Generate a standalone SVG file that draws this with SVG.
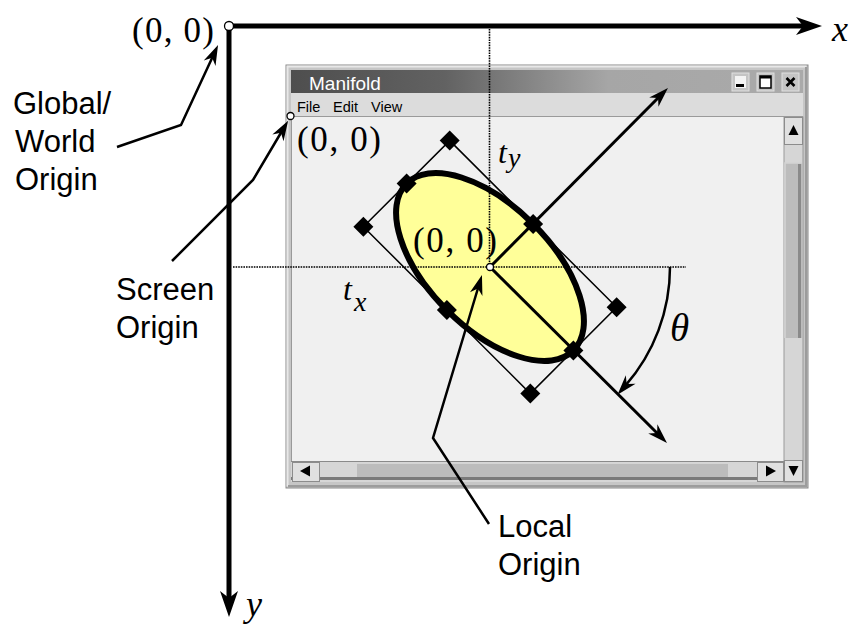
<svg xmlns="http://www.w3.org/2000/svg" width="854" height="624" viewBox="0 0 854 624">
<defs>
<style>
.sans{font-family:"Liberation Sans",Arial,sans-serif;fill:#000;font-size:31px}
.serif{font-family:"Liberation Serif","Times New Roman",serif;fill:#000}
.it{font-style:italic}
.axis{stroke:#000;stroke-width:5;fill:none;stroke-linecap:square}
.lead{stroke:#000;stroke-width:2.5;fill:none;stroke-linejoin:miter}
.thin{stroke:#000;stroke-width:1.5;fill:none}
.dot{stroke:#000;stroke-width:1.6;stroke-dasharray:1.6 1;fill:none}
.bar{stroke:#000;stroke-width:3;fill:none}
.origin{fill:#fff;stroke:#000;stroke-width:1.3}
.btn{fill:#e0e0e0;stroke:#8c8c8c;stroke-width:1}
.tri{fill:#000}
</style>
<linearGradient id="titleGrad" x1="0" y1="0" x2="1" y2="0">
<stop offset="0" stop-color="#4e4e4e"/>
<stop offset="0.3" stop-color="#626262"/>
<stop offset="0.62" stop-color="#a6a6a6"/>
<stop offset="1" stop-color="#aaaaaa"/>
</linearGradient>
<marker id="bigArrow" viewBox="-28 -10 30 20" markerWidth="30" markerHeight="20" refX="-15" refY="0" orient="auto" markerUnits="userSpaceOnUse"><path d="M0,0 L-26,-9 L-19,0 L-26,9 Z" fill="#000"/></marker>
<marker id="arrow" viewBox="-22 -8 24 16" markerWidth="24" markerHeight="16" refX="-12" refY="0" orient="auto" markerUnits="userSpaceOnUse"><path d="M0,0 L-20,-6.5 L-14,0 L-20,6.5 Z" fill="#000"/></marker>
<path id="diamond" d="M0,-10 L10,0 L0,10 L-10,0 Z" fill="#000"/>
</defs>
<rect width="854" height="624" fill="#fff"/>

<g id="window">
<rect x="286" y="65" width="522" height="423" fill="#c6c6c6" stroke="#8a8a8a" stroke-width="1"/>
<path d="M287.5,486.5 V66.5 H806.5" stroke="#e8e8e8" stroke-width="2" fill="none"/>
<path d="M806,67 V486 H288" stroke="#9c9c9c" stroke-width="2" fill="none"/>
<rect x="291" y="70" width="512" height="23" fill="url(#titleGrad)"/>
<text x="309" y="90" font-family="Liberation Sans, Arial, sans-serif" font-size="19" fill="#fff">Manifold</text>
<g id="title-buttons">
<rect x="732" y="73" width="17" height="18" fill="#c4c4c4" stroke="#e0e0e0"/>
<rect x="735" y="76" width="11" height="12" fill="#f4f4f4"/>
<rect x="736" y="84" width="8" height="3" fill="#000"/>
<rect x="757" y="73" width="17" height="18" fill="#c4c4c4" stroke="#e0e0e0"/>
<rect x="760" y="76" width="11" height="12" fill="#fff" stroke="#000" stroke-width="1.5"/>
<rect x="760" y="76" width="11" height="2.5" fill="#000"/>
<rect x="782" y="73" width="17" height="18" fill="#c4c4c4" stroke="#e0e0e0"/>
<path d="M786.5,78 L794.5,86 M794.5,78 L786.5,86" stroke="#000" stroke-width="2.6"/>
</g>
<rect x="291" y="93" width="512" height="24" fill="#dcdcdc"/>
<line x1="291" y1="116.5" x2="803" y2="116.5" stroke="#9a9a9a"/>
<g font-family="Liberation Sans, Arial, sans-serif" font-size="14.5" fill="#000">
<text x="297" y="112">File</text>
<text x="333" y="112">Edit</text>
<text x="371" y="112">View</text>
</g>
<rect x="291" y="117" width="493" height="344" fill="#f0f0f0"/>
<line x1="291.5" y1="117" x2="291.5" y2="461" stroke="#9a9a9a"/>
<g id="vscroll">
<rect x="784" y="117" width="19" height="365" fill="#d6d6d6" stroke="#9a9a9a" stroke-width="1"/>
<rect x="784.5" y="117.5" width="18" height="27" class="btn"/>
<polygon class="tri" points="788.5,135 798.5,135 793.5,125"/>
<rect x="785" y="163" width="17" height="175" fill="#bcbcbc"/>
<path d="M785,338 V163 H802" stroke="#d4d4d4" stroke-width="1.5" fill="none"/>
<path d="M799.5,164 V338" stroke="#8a8a8a" stroke-width="3" fill="none"/>
<rect x="784.5" y="460.5" width="18" height="21" class="btn"/>
<polygon class="tri" points="788.5,466 798.5,466 793.5,476"/>
</g>
<g id="hscroll">
<rect x="291" y="461" width="493" height="21" fill="#d6d6d6"/>
<line x1="291" y1="461.5" x2="784" y2="461.5" stroke="#8a8a8a"/>
<rect x="291" y="477" width="493" height="3" fill="#7a7a7a"/>
<rect x="292.5" y="462.5" width="27" height="19" class="btn"/>
<polygon class="tri" points="300,471 310,465.5 310,476.5"/>
<rect x="357" y="463" width="371" height="14" fill="#bcbcbc"/>
<line x1="357" y1="463.5" x2="728" y2="463.5" stroke="#d4d4d4"/>
<rect x="757.5" y="462.5" width="26" height="19" class="btn"/>
<polygon class="tri" points="766,465.5 766,476.5 776,471"/>
</g>
</g>

<g id="local-object">
<ellipse cx="490" cy="267" rx="118" ry="61" transform="rotate(45 490 267)" fill="#ffff99" stroke="#000" stroke-width="6"/>
<polygon class="thin" points="449.7,140.6 616.6,307.3 530.3,393.6 363.4,226.7"/>
<use href="#diamond" x="573.4" y="350.4"/>
<use href="#diamond" x="406.6" y="183.6"/>
<use href="#diamond" x="533.1" y="223.9"/>
<use href="#diamond" x="446.9" y="310.1"/>
<use href="#diamond" x="616.6" y="307.3"/>
<use href="#diamond" x="530.3" y="393.6"/>
<use href="#diamond" x="449.7" y="140.6"/>
<use href="#diamond" x="363.4" y="226.7"/>
</g>

<g id="connectors">
<path class="axis" d="M229,26 H807" marker-end="url(#bigArrow)"/>
<path class="axis" d="M229,26 V602" marker-end="url(#bigArrow)"/>
<line class="dot" x1="489.5" y1="29" x2="489.5" y2="266"/>
<line class="dot" x1="233" y1="267" x2="686" y2="267"/>
<line class="bar" x1="490" y1="267" x2="658.5" y2="434.5" marker-end="url(#arrow)"/>
<line class="bar" x1="490" y1="267" x2="659.5" y2="96.5" marker-end="url(#arrow)"/>
<path class="lead" d="M670,267 A180,180 0 0,1 625.4,385.6" marker-end="url(#arrow)"/>
<path class="lead" d="M117,147 L181,125 L213,56" marker-end="url(#arrow)"/>
<path class="lead" d="M172,261 L253,180 L282,131" marker-end="url(#arrow)"/>
<path class="lead" d="M489,524 L433,438 L478.5,286.5" marker-end="url(#arrow)"/>
</g>

<g id="origins">
<circle class="origin" cx="229" cy="26" r="4.5"/>
<circle class="origin" cx="290.5" cy="116" r="3.5"/>
<circle class="origin" cx="490" cy="267" r="3.5"/>
</g>

<g id="labels">
<text class="serif" x="132" y="42" font-size="35" textLength="82">(0, 0)</text>
<text class="serif" x="297" y="151" font-size="35" textLength="84">(0, 0)</text>
<text class="serif" x="413" y="252" font-size="35" textLength="84">(0, 0)</text>
<text class="serif it" x="832" y="41" font-size="36">x</text>
<text class="serif it" x="246" y="616" font-size="36">y</text>
<text class="serif it" x="670" y="341" font-size="39">θ</text>
<text class="serif it" x="498" y="163" font-size="32">t</text>
<text class="serif it" x="508" y="167" font-size="28">y</text>
<text class="serif it" x="343" y="300" font-size="32">t</text>
<text class="serif it" x="354" y="311" font-size="28">x</text>
<text class="sans" x="13" y="114">Global/</text>
<text class="sans" x="15" y="152">World</text>
<text class="sans" x="15" y="190">Origin</text>
<text class="sans" x="116" y="300">Screen</text>
<text class="sans" x="116" y="338">Origin</text>
<text class="sans" x="498" y="537">Local</text>
<text class="sans" x="498" y="575">Origin</text>
</g>
</svg>
